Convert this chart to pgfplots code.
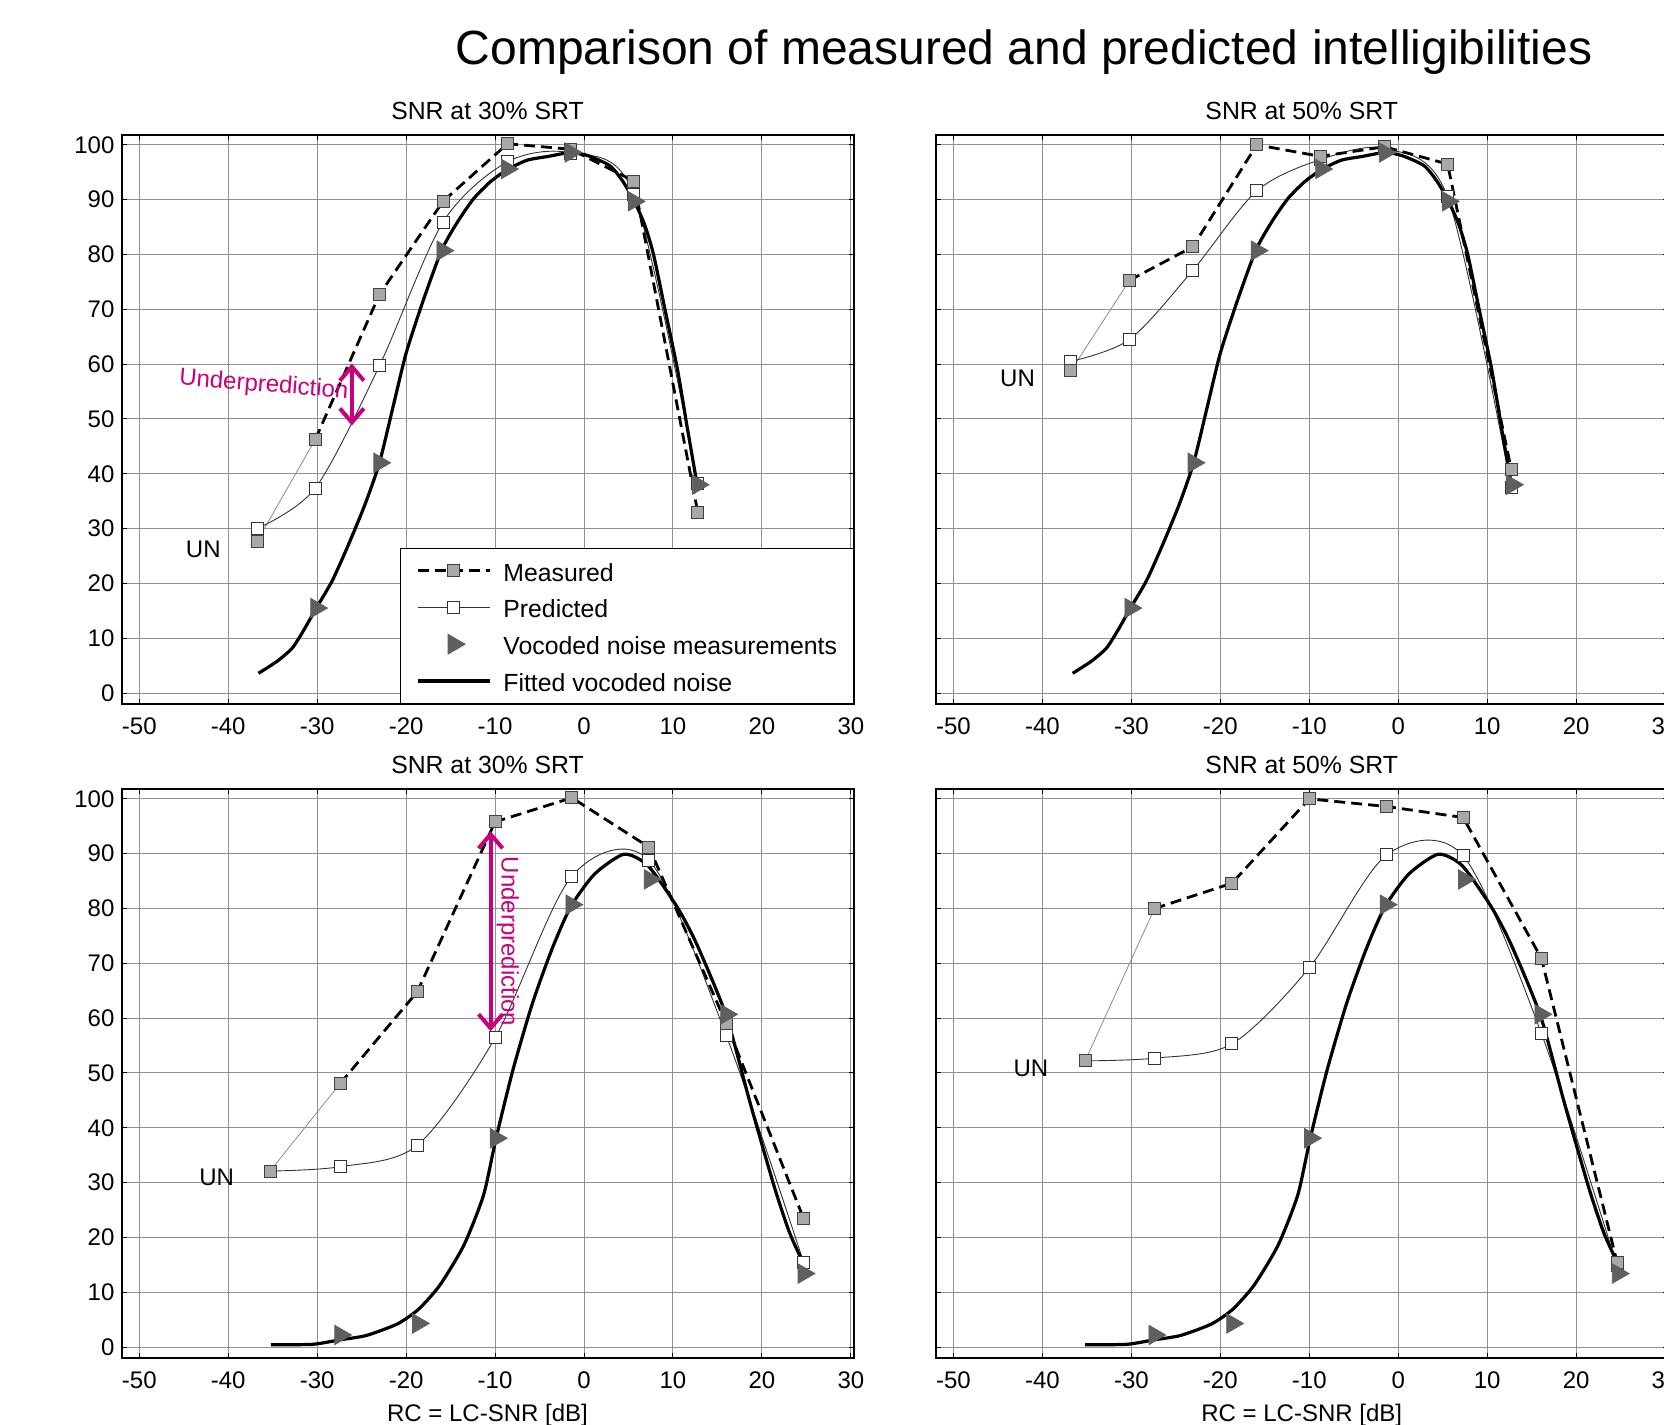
\documentclass[border=0pt]{standalone}
\usepackage{fontspec}
\setmainfont{Liberation Sans}
\usepackage{pgfplots}
\pgfplotsset{compat=1.18}
\usetikzlibrary{arrows.meta}
\definecolor{magentaT}{RGB}{200,0,125}
\definecolor{measfill}{RGB}{168,168,168}
\definecolor{trifill}{RGB}{95,95,95}
\definecolor{gridc}{RGB}{145,145,145}
\definecolor{unline}{RGB}{140,140,140}

\tikzset{
  unlab/.style={font=\fontsize{12}{14}\selectfont},
  arr/.style={magentaT, line width=2pt, {Straight Barb[length=7pt,width=12pt]}-{Straight Barb[length=7pt,width=12pt]}},
  arrlab/.style={magentaT, font=\fontsize{12}{14}\selectfont},
}

\pgfplotsset{
  panel/.style={
    scale only axis, width=366pt, height=284.5pt, anchor=south west,
    xmin=-52, xmax=30.3, ymin=-2, ymax=101.8,
    xtick={-50,-40,-30,-20,-10,0,10,20,30},
    ytick={0,10,20,30,40,50,60,70,80,90,100},
    xticklabels={-50,-40,-30,-20,-10,0,10,20,30},
    yticklabels={0,10,20,30,40,50,60,70,80,90,100},
    grid=major, major grid style={gridc, line width=0.5pt},
    tick align=inside, major tick length=2.5pt,
    tick style={black, line width=0.5pt},
    axis line style={black, line width=1pt},
    ticklabel style={font=\fontsize{12}{14}\selectfont},
    xticklabel style={yshift=-3.5pt},
    title style={font=\fontsize{12.4}{14}\selectfont, at={(0.5,1)}, anchor=base, yshift=1.6pt},
    xlabel style={font=\fontsize{12}{14}\selectfont, at={(axis description cs:0.5,0)}, anchor=base, yshift=-31.9pt},
  },
  noylab/.style={yticklabels={}},
  measline/.style={draw=black, line width=1.4pt, dash pattern=on 5.5pt off 3pt,
    mark=square*, mark size=3pt, mark options={solid, fill=measfill, draw=black!75, line width=0.5pt}},
  measmark/.style={only marks, mark=square*, mark size=3pt, mark options={solid, fill=measfill, draw=black!75, line width=0.5pt}},
  unseg/.style={draw=unline, line width=0.4pt},
  predline/.style={draw=black!80, line width=0.45pt, smooth,
    mark=square*, mark size=3pt, mark options={fill=white, draw=black!80, line width=0.5pt}},
  tris/.style={only marks, mark=triangle*, mark size=5.6pt, mark options={rotate=-90, fill=trifill, draw=trifill}},
  fitline/.style={draw=black, line width=1.6pt, smooth, tension=0.4},
}

\pgfplotstableread{
x y
-36.6 3.6
-34.5 5.8
-32.8 8.2
-31.5 11.5
-30.1 15.5
-28.3 20.5
-26.5 27.0
-24.6 34.5
-23.0 42.0
-21.5 52.0
-20.0 62.0
-18.1 71.5
-16.0 80.8
-14.2 86.0
-12.4 90.2
-10.5 93.3
-8.6 95.5
-6.4 97.2
-4.0 97.9
-1.5 98.6
0.5 98.0
2.9 96.2
4.3 93.5
5.6 89.9
6.8 85.5
7.8 80.1
9.1 70.0
10.5 59.1
11.6 48.5
12.7 38.2
}\fittop

\pgfplotstableread{
x y
-35.2 0.4
-30.5 0.5
-27.5 1.3
-24.5 2.1
-21.0 4.2
-18.6 6.9
-16.2 11.3
-13.5 18.6
-11.3 27.7
-9.9 38.0
-8.0 50.5
-5.8 62.7
-3.6 72.6
-1.5 80.3
1.2 86.3
4.5 89.9
7.2 87.8
10.5 80.2
12.7 73.4
16.0 60.4
18.7 44.4
21.4 29.2
23.1 20.9
24.6 15.5
}\fitbot

\begin{document}
\begin{tikzpicture}
\useasboundingbox (0,0) rectangle (832pt,712pt);
\node[anchor=base, font=\fontsize{24}{28}\selectfont] at (512pt,679.5pt) {Comparison of measured and predicted intelligibilities};

% ---------------- top left
\begin{axis}[panel, at={(60.75pt,360pt)}, title={SNR at 30\% SRT},
  legend style={at={(1,0)}, anchor=south east, draw=black, line width=0.5pt, fill=white,
    font=\fontsize{12.4}{14}\selectfont, inner xsep=8pt, inner ysep=3pt, row sep=1.9pt,
    nodes={inner sep=0pt, text height=13.5pt, text depth=3pt}, /tikz/column sep=6pt},
  legend cell align=left,
  legend image code/.code={\draw[mark repeat=2,mark phase=2,#1] plot coordinates {(0pt,0pt) (18pt,0pt) (36pt,0pt)};}]
\addlegendimage{measline}\addlegendentry{Measured}
\addlegendimage{predline}\addlegendentry{Predicted}
\addlegendimage{tris}\addlegendentry{Vocoded noise measurements}
\addlegendimage{fitline}\addlegendentry{Fitted vocoded noise}
\addplot[unseg, forget plot] coordinates {(-36.75,27.7) (-30.2,46.3)};
\addplot[predline, forget plot] coordinates {(-36.75,30.0) (-30.2,37.4) (-23.0,59.7) (-15.85,85.9) (-8.6,96.9) (-1.5,98.5) (5.6,91.0) (12.8,38.2)};
\addplot[measline, forget plot] coordinates {(-30.2,46.3) (-23.0,72.7) (-15.85,89.7) (-8.6,100.2) (-1.5,99.2) (5.6,93.4) (12.8,32.9)};
\addplot[measmark, forget plot] coordinates {(-36.75,27.7)};
\addplot[fitline, forget plot] table {\fittop};
\addplot[tris, forget plot] coordinates {(-30.1,15.5) (-23.0,42.0) (-15.9,80.7) (-8.65,95.6) (-1.5,98.6) (5.6,89.7) (12.8,38.0)};
\node[unlab] at (axis cs:-42.8,26.2) {UN};
\node[arrlab, rotate=-4.6] at (axis cs:-36.0,56.1) {Underprediction};
\draw[arr] (axis cs:-26.1,60.1) -- (axis cs:-26.1,48.8);
\end{axis}

% ---------------- top right
\begin{axis}[panel, noylab, at={(467.85pt,360pt)}, title={SNR at 50\% SRT}]
\addplot[unseg] coordinates {(-36.8,58.8) (-30.2,75.3)};
\addplot[predline] coordinates {(-36.8,60.5) (-30.2,64.5) (-23.1,77.1) (-15.9,91.6) (-8.75,97.3) (-1.55,99.3) (5.55,90.5) (12.7,37.5)};
\addplot[measline] coordinates {(-30.2,75.3) (-23.1,81.4) (-15.9,100.0) (-8.75,97.9) (-1.55,99.65) (5.55,96.5) (12.7,40.85)};
\addplot[measmark] coordinates {(-36.8,58.8)};
\addplot[fitline] table {\fittop};
\addplot[tris] coordinates {(-30.1,15.5) (-23.0,42.0) (-15.9,80.7) (-8.65,95.6) (-1.5,98.6) (5.6,89.7) (12.8,38.0)};
\node[unlab] at (axis cs:-42.8,57.4) {UN};
\end{axis}

% ---------------- bottom left
\begin{axis}[panel, at={(60.75pt,33pt)}, title={SNR at 30\% SRT}, xlabel={RC = LC-SNR [dB]}]
\addplot[unseg] coordinates {(-35.3,32.1) (-27.4,48.1)};
\addplot[predline] coordinates {(-35.3,32.1) (-27.4,32.9) (-18.75,36.8) (-10.0,56.4) (-1.36,85.9) (7.3,88.8) (16.0,56.8) (24.7,15.4)};
\addplot[measline] coordinates {(-27.4,48.1) (-18.75,64.8) (-10.0,95.8) (-1.36,100.2) (7.3,91.2) (16.0,59.0) (24.7,23.4)};
\addplot[measmark] coordinates {(-35.3,32.1)};
\addplot[fitline] table {\fitbot};
\addplot[tris] coordinates {(-27.4,2.2) (-18.65,4.3) (-9.9,38.1) (-1.4,80.7) (7.4,85.3) (16.0,60.7) (24.7,13.4)};
\node[unlab] at (axis cs:-41.3,30.9) {UN};
\draw[arr] (axis cs:-10.5,94.1) -- (axis cs:-10.5,57.6);
\node[arrlab, rotate=-90] at (axis cs:-8.57,74.0) {Underprediction};
\end{axis}

% ---------------- bottom right
\begin{axis}[panel, noylab, at={(467.85pt,33pt)}, title={SNR at 50\% SRT}, xlabel={RC = LC-SNR [dB]}]
\addplot[unseg] coordinates {(-35.2,52.2) (-27.4,80.0)};
\addplot[predline] coordinates {(-35.2,52.2) (-27.4,52.7) (-18.7,55.3) (-10.0,69.2) (-1.28,89.8) (7.3,89.6) (16.1,57.2) (24.6,14.8)};
\addplot[measline] coordinates {(-27.4,80.0) (-18.7,84.6) (-10.0,100.0) (-1.28,98.6) (7.3,96.6) (16.1,70.9) (24.6,15.5)};
\addplot[measmark] coordinates {(-35.2,52.2)};
\addplot[fitline] table {\fitbot};
\addplot[tris] coordinates {(-27.4,2.2) (-18.65,4.3) (-9.9,38.1) (-1.4,80.7) (7.4,85.3) (16.0,60.7) (24.7,13.4)};
\node[unlab] at (axis cs:-41.3,50.9) {UN};
\end{axis}
\end{tikzpicture}
\end{document}
